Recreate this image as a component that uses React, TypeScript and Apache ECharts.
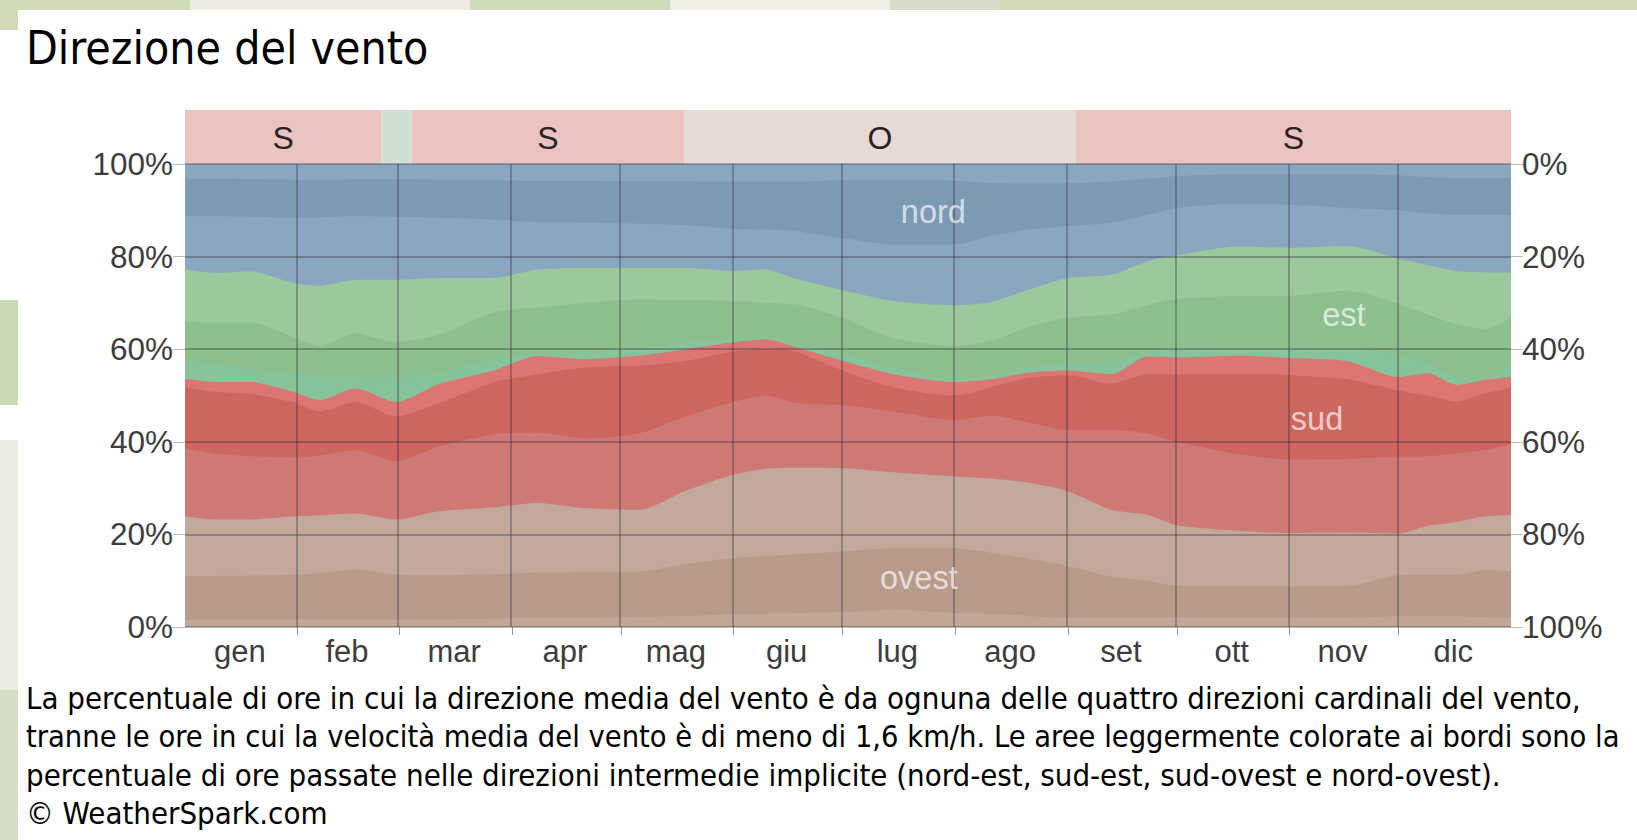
import React, { useEffect, useRef } from "react";
import * as echarts from "echarts";

const monthNames = ["gen", "feb", "mar", "apr", "mag", "giu", "lug", "ago", "set", "ott", "nov", "dic"];
const monthStarts = [0, 31, 59, 90, 120, 151, 181, 212, 243, 273, 304, 334, 365];

const days = [0, 8, 18, 30, 37, 47, 58, 70, 85, 97, 110, 125, 138, 151, 160, 168, 181, 195, 212, 222, 232, 243, 255, 265, 273, 290, 304, 320, 334, 342, 350, 358, 365];

const b11 = [96.8, 96.8, 96.7, 96.6, 96.5, 96.7, 96.7, 96.6, 96.5, 96.4, 96.4, 96.3, 96.3, 96.2, 96.2, 96.2, 96.5, 96.6, 96.4, 95.9, 95.8, 95.8, 96.2, 96.8, 97.4, 97.8, 97.8, 97.8, 97.5, 97.2, 97, 97, 97];
const b10 = [88.7, 88.7, 88.6, 88.4, 88.5, 88.7, 88.6, 88.4, 88, 87.4, 87.3, 87.1, 86.8, 86, 85.8, 85.5, 84, 82.6, 82.6, 84.5, 85.8, 86.6, 87.3, 89, 90.5, 91.4, 91.2, 90.5, 90, 89.3, 89, 89, 89];
const b9 = [77.2, 76.5, 76.8, 74.3, 73.7, 75, 75, 75.4, 75.4, 77.2, 77.6, 77.6, 77.6, 76.9, 77.2, 75.2, 72.8, 70.4, 69.5, 70.2, 72.8, 75.4, 76.1, 79, 80.3, 82.2, 81.9, 82.3, 79.6, 78.2, 76.9, 76.6, 76.5];
const b8 = [66, 65.8, 65.8, 62.6, 60.8, 63.4, 61.6, 63.2, 68, 69, 70, 70.8, 70.6, 70.4, 70, 69.7, 66.8, 62.4, 60.7, 61.8, 64.8, 66.8, 67.5, 69.5, 70.8, 71.5, 71.5, 72.6, 69.8, 67.5, 65.4, 64.4, 66.8];
const b7 = [57.5, 56.8, 55.8, 54.7, 54.2, 54.2, 53.9, 55, 58, 59, 59.3, 60.2, 61.6, 62.3, 62.6, 61, 59, 56, 53.6, 54.2, 56, 57.3, 57.5, 59.3, 60.2, 60.2, 60.2, 60, 59, 57, 54, 53.5, 56.7];
const b6 = [53.6, 52.9, 52.9, 50.7, 49, 51.5, 48.6, 52.5, 55.4, 58.5, 57.9, 58.6, 60, 61.5, 62.1, 60.5, 57.5, 54.6, 52.9, 53.5, 54.9, 55.4, 54.6, 58.4, 58.2, 58.6, 58.1, 57.4, 54, 54.8, 52.3, 53.4, 54];
const b5 = [51.8, 50.8, 50.4, 48.5, 46.6, 48.6, 45.5, 48.3, 52.8, 54.6, 56, 56.4, 57.5, 59.5, 60, 59.5, 55.4, 51.8, 50, 51.8, 53.8, 54.4, 52.6, 54.6, 54.6, 54.6, 54.4, 53.5, 51.1, 50, 48.7, 50.5, 51.8];
const b4 = [38.6, 37.5, 36.9, 36.6, 37, 38.2, 35.8, 39, 41.6, 42, 40.7, 41.8, 45.5, 48.6, 50, 48.4, 47.9, 46.5, 44.7, 45.7, 44.2, 42.5, 42.5, 41.8, 40, 37.3, 36.2, 36.3, 36.8, 36.9, 37.5, 38.3, 39.3];
const b3 = [23.9, 23.2, 23.2, 23.9, 24.1, 24.5, 23.2, 25, 25.8, 26.8, 25.7, 25.3, 29.5, 32.9, 34.2, 34.4, 34.3, 33.4, 32.5, 32, 31.2, 29.3, 25.3, 24.2, 22, 20.8, 20.3, 20.4, 20.2, 21.8, 22.7, 23.9, 24.2];
const b2 = [11, 11, 11.1, 11.3, 11.6, 12.4, 11.3, 11.2, 11.4, 11.7, 11.8, 12, 13.6, 14.9, 15.3, 15.7, 16.3, 17, 17, 16, 14.8, 13.2, 10.9, 10, 8.9, 8.8, 8.8, 8.9, 11.2, 11.3, 11.3, 12.3, 12];
const b1 = [1.6, 1.6, 1.7, 1.7, 1.7, 1.7, 1.7, 1.7, 1.8, 2, 2, 2.2, 2.4, 2.7, 2.8, 3, 3.2, 3.8, 3, 2.8, 2.4, 2, 2, 2, 2, 2, 2, 2, 2.3, 2.3, 2.3, 2.1, 2];
const b12 = days.map(() => 100);

const layers = [b12, b11, b10, b9, b8, b7, b6, b5, b4, b3, b2, b1];
const layerColors = ["#8aa7c1", "#7c9ab3", "#8aa7c1", "#9bc89d", "#8dc08e", "#87c39b", "#dc7672", "#cc665f", "#cf7977", "#c3a99b", "#b89b8b", "#c2a799"];

const stripStart = [0, 54, 62.4, 137.4, 245.2];
const stripEnd = [54, 62.4, 137.4, 245.2, 365];
const stripLabels = ["S", "", "S", "O", "S"];
const stripColors = ["#ebc4c0", "#cfe2d2", "#ebc4c0", "#e7dad5", "#ebc4c0"];

const directionNames = ["nord", "est", "sud", "ovest"];
const directionDays = [206, 319, 311.6, 202];
const directionValues = [89.6, 67.3, 45, 10.6];

const noteLines = [
  "La percentuale di ore in cui la direzione media del vento è da ognuna delle quattro direzioni cardinali del vento,",
  "tranne le ore in cui la velocità media del vento è di meno di 1,6 km/h. Le aree leggermente colorate ai bordi sono la",
  "percentuale di ore passate nelle direzioni intermedie implicite (nord-est, sud-est, sud-ovest e nord-ovest).",
  "© WeatherSpark.com",
];
const noteSizes = [30.9, 30.5, 30.9, 30.9];

const backdropPieces = [
  { x: 0, y: 0, w: 1637, h: 10, c: "#d0dcb8" },
  { x: 0, y: 0, w: 190, h: 10, c: "#cfdcb4" },
  { x: 190, y: 0, w: 280, h: 10, c: "#f0ece4" },
  { x: 470, y: 0, w: 200, h: 10, c: "#cfdcbc" },
  { x: 670, y: 0, w: 220, h: 10, c: "#f2eee8" },
  { x: 890, y: 0, w: 110, h: 10, c: "#d8dcc8" },
  { x: 0, y: 0, w: 18, h: 30, c: "#cfdcb4" },
  { x: 0, y: 300, w: 18, h: 105, c: "#c9dab0" },
  { x: 0, y: 440, w: 18, h: 250, c: "#eceee6" },
  { x: 0, y: 690, w: 18, h: 150, c: "#d5dfc8" },
];

const LABEL_FONT = '"Liberation Sans", Arial, sans-serif';
const NOTE_FONT = '"DejaVu Sans Condensed", "DejaVu Sans", sans-serif';
const LABEL_COLOR = "#3d3d3d";

export default function App() {
  const ref = useRef<HTMLDivElement>(null);

  useEffect(() => {
    document.body.style.margin = "0";
    const chart = echarts.init(ref.current!, undefined, { renderer: "svg" });
    const areaSeries = layers.map((values, i) => ({
      type: "line",
      name: "b" + i,
      xAxisIndex: 0,
      yAxisIndex: 0,
      data: days.map((d, k) => [d, values[k]]),
      showSymbol: false,
      symbol: "none",
      smooth: 0.25,
      lineStyle: { width: 0 },
      areaStyle: { color: layerColors[i], opacity: 1 },
      silent: true,
      z: 2,
    }));
    chart.setOption({
      animation: false,
      backgroundColor: "#ffffff",
      title: {
        text: "Direzione del vento",
        left: 26,
        top: 25,
        padding: 0,
        textStyle: { fontFamily: NOTE_FONT, fontSize: 46, fontWeight: "normal", color: "#000" },
      },
      grid: [
        { left: 185, right: 126, top: 164, height: 463, containLabel: false },
        { left: 185, right: 126, top: 110, height: 54, containLabel: false },
      ],
      xAxis: [
        {
          type: "value",
          gridIndex: 0,
          min: 0,
          max: 365,
          axisLine: { show: false },
          axisTick: { show: true, customValues: monthStarts.slice(1, 12), length: 8, lineStyle: { color: "#999", width: 1 } },
          axisLabel: {
            show: true,
            customValues: monthStarts.slice(0, 12).map((s, i) => (s + monthStarts[i + 1]) / 2 - 0.4),
            formatter: (v: number) => {
              const i = monthStarts.findIndex((s, k) => v >= s && v < monthStarts[k + 1]);
              return monthNames[i] ?? "";
            },
            fontFamily: LABEL_FONT,
            fontSize: 31,
            color: LABEL_COLOR,
            margin: 9,
          },
          splitLine: { show: false },
        },
        { type: "value", gridIndex: 1, min: 0, max: 365, show: false },
      ],
      yAxis: [
        {
          type: "value",
          gridIndex: 0,
          min: 0,
          max: 100,
          interval: 20,
          z: 10,
          axisLine: { show: false },
          axisTick: { show: true, length: 12, lineStyle: { color: "#bbb", width: 1 } },
          axisLabel: { formatter: "{value}%", fontFamily: LABEL_FONT, fontSize: 31.5, color: LABEL_COLOR, margin: 12 },
          splitLine: { show: true, lineStyle: { color: "rgba(30,30,40,0.4)", width: 1.5 } },
        },
        {
          type: "value",
          gridIndex: 0,
          position: "right",
          min: 0,
          max: 100,
          interval: 20,
          inverse: true,
          z: 10,
          axisLine: { show: false },
          axisTick: { show: true, length: 12, lineStyle: { color: "#bbb", width: 1 } },
          axisLabel: { formatter: "{value}%", fontFamily: LABEL_FONT, fontSize: 31.5, color: LABEL_COLOR, margin: 11 },
          splitLine: { show: false },
        },
        { type: "value", gridIndex: 1, min: 0, max: 1, show: false },
      ],
      series: [
        ...areaSeries,
        {
          type: "line",
          name: "mesi",
          xAxisIndex: 0,
          yAxisIndex: 0,
          data: [],
          silent: true,
          z: 5,
          markLine: {
            silent: true,
            symbol: "none",
            label: { show: false },
            lineStyle: { color: "rgba(30,30,40,0.4)", width: 1.5, type: "solid" },
            data: monthStarts.slice(1, 12).map((m) => ({ xAxis: m - 0.3 })),
          },
        },
        {
          type: "line",
          name: "direzione prevalente",
          xAxisIndex: 1,
          yAxisIndex: 2,
          data: [],
          silent: true,
          markArea: {
            silent: true,
            data: stripStart.map((s, i) => [
              {
                xAxis: s,
                itemStyle: { color: stripColors[i], opacity: 1 },
                label: {
                  show: !!stripLabels[i],
                  formatter: stripLabels[i],
                  position: "inside",
                  fontFamily: LABEL_FONT,
                  fontSize: 32,
                  color: "#2a2226",
                  offset: [0, 1],
                },
              },
              { xAxis: stripEnd[i] },
            ]),
          },
        },
        {
          type: "scatter",
          name: "direzioni",
          xAxisIndex: 0,
          yAxisIndex: 0,
          symbolSize: 0,
          silent: true,
          z: 12,
          data: directionNames.map((n, i) => ({
            name: n,
            value: [directionDays[i], directionValues[i]],
            label: {
              show: true,
              position: "inside",
              formatter: n,
              fontFamily: LABEL_FONT,
              fontSize: 32.5,
              color: "rgba(255,255,255,0.85)",
            },
          })),
        },
      ],
      graphic: [
        ...backdropPieces.map((p) => ({
          type: "rect",
          silent: true,
          z: 0,
          shape: { x: p.x, y: p.y, width: p.w, height: p.h },
          style: { fill: p.c },
        })),
        ...noteLines.map((line, i) => ({
          type: "text",
          silent: true,
          x: 26,
          y: 697.5 + i * 38.6,
          style: { text: line, fontFamily: NOTE_FONT, fontSize: noteSizes[i], fill: "#000", textVerticalAlign: "middle", textBaseline: "middle" },
        })),
      ],
    });
    return () => chart.dispose();
  }, []);

  return <div ref={ref} style={{ position: "absolute", left: 0, top: 0, width: 1637, height: 840 }} />;
}
